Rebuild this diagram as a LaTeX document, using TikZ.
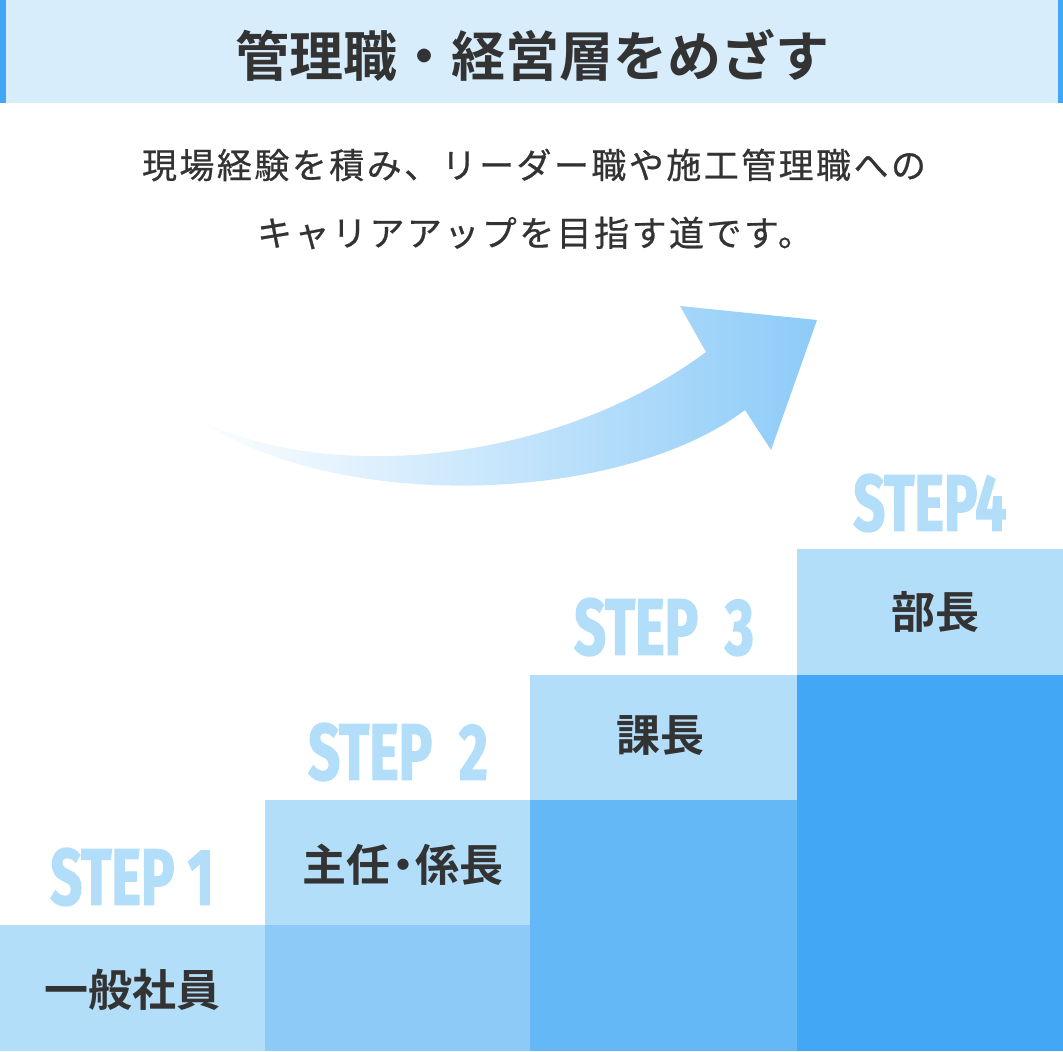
\documentclass[tikz,border=0pt]{standalone}
\usepackage{fontspec}
\newfontfamily\jp{Noto Sans CJK JP}[BoldFont={Noto Sans CJK JP Bold}]
\newfontfamily\jpsub{Noto Sans CJK JP}[LetterSpace=7, FakeBold=0.6]
\newfontfamily\stepfont{Fira Sans}[FakeStretch=0.7, FakeBold=1.6]
\definecolor{txt}{HTML}{333333}
\definecolor{barbg}{HTML}{D7EDFB}
\definecolor{edge}{HTML}{42A5F5}
\definecolor{lite}{HTML}{B3DEFA}
\definecolor{midA}{HTML}{8DCAF7}
\definecolor{midB}{HTML}{64B8F6}
\definecolor{deep}{HTML}{42A7F4}
\definecolor{arrowblue}{HTML}{8DCBF8}
\tikzset{
  box/.style={inner sep=0pt, outer sep=0pt, anchor=north west},
  steplabel/.style={text=lite, font=\stepfont\bfseries\fontsize{80pt}{80pt}\selectfont, inner sep=0pt},
  rolelabel/.style={text=txt, font=\jp\bfseries\fontsize{44pt}{44pt}\selectfont, inner sep=0pt},
  subline/.style={text=txt, font=\jpsub\fontsize{35pt}{35pt}\selectfont, inner sep=0pt},
}
\begin{document}
\begin{tikzpicture}[x=1pt,y=-1pt]
\useasboundingbox (0,0) rectangle (1063,1052);
% title bar
\node[box, fill=barbg, minimum width=1063pt, minimum height=103pt] (bar) at (0,0) {};
\node[box, fill=edge, minimum width=6pt, minimum height=103pt] (edgeL) at (0,0) {};
\node[box, fill=edge, minimum width=5pt, minimum height=103pt] (edgeR) at (1058,0) {};
\node[text=txt, font=\jp\bfseries\fontsize{54pt}{54pt}\selectfont, inner sep=0pt] (title) at (532,55) {管理職・経営層をめざす};
% subtitle
\node[subline] (sub1) at (534,165) {現場経験を積み、リーダー職や施工管理職への};
\node[subline] (sub2) at (535,233) {キャリアアップを目指す道です。};
% arrow
\shade[left color=white, right color=arrowblue, middle color=arrowblue!50]
  (190,414) .. controls (300,480) and (540,475) .. (706,352)
  -- (680,306) -- (817,320) -- (771,450) -- (745,410)
  .. controls (620,505) and (330,515) .. (190,414) -- cycle;
% steps
\node[box, fill=lite, minimum width=265pt, minimum height=126pt] (s1top) at (0,925) {};
\node[box, fill=lite, minimum width=265pt, minimum height=125pt] (s2top) at (265,800) {};
\node[box, fill=midA, minimum width=265pt, minimum height=126pt] (s2bot) at (265,925) {};
\node[box, fill=lite, minimum width=267pt, minimum height=125pt] (s3top) at (530,675) {};
\node[box, fill=midB, minimum width=267pt, minimum height=251pt] (s3bot) at (530,800) {};
\node[box, fill=lite, minimum width=266pt, minimum height=126pt] (s4top) at (797,549) {};
\node[box, fill=deep, minimum width=266pt, minimum height=376pt] (s4bot) at (797,675) {};
% step labels
\node[steplabel] (st1) at (132,877) {STEP 1};
\node[steplabel] (st2) at (398,752) {STEP\,\,2};
\node[steplabel] (st3) at (664,627) {STEP\,\,3};
\node[steplabel] (st4) at (930,503) {STEP4};
% role labels
\node[rolelabel] (r1) at (132,990) {一般社員};
\node[rolelabel] (r2) at (403,865) {主任\kern-0.22em・\kern-0.22em係長};
\node[rolelabel] (r3) at (660,735) {課長};
\node[rolelabel] (r4) at (935,612) {部長};
\end{tikzpicture}
\end{document}
